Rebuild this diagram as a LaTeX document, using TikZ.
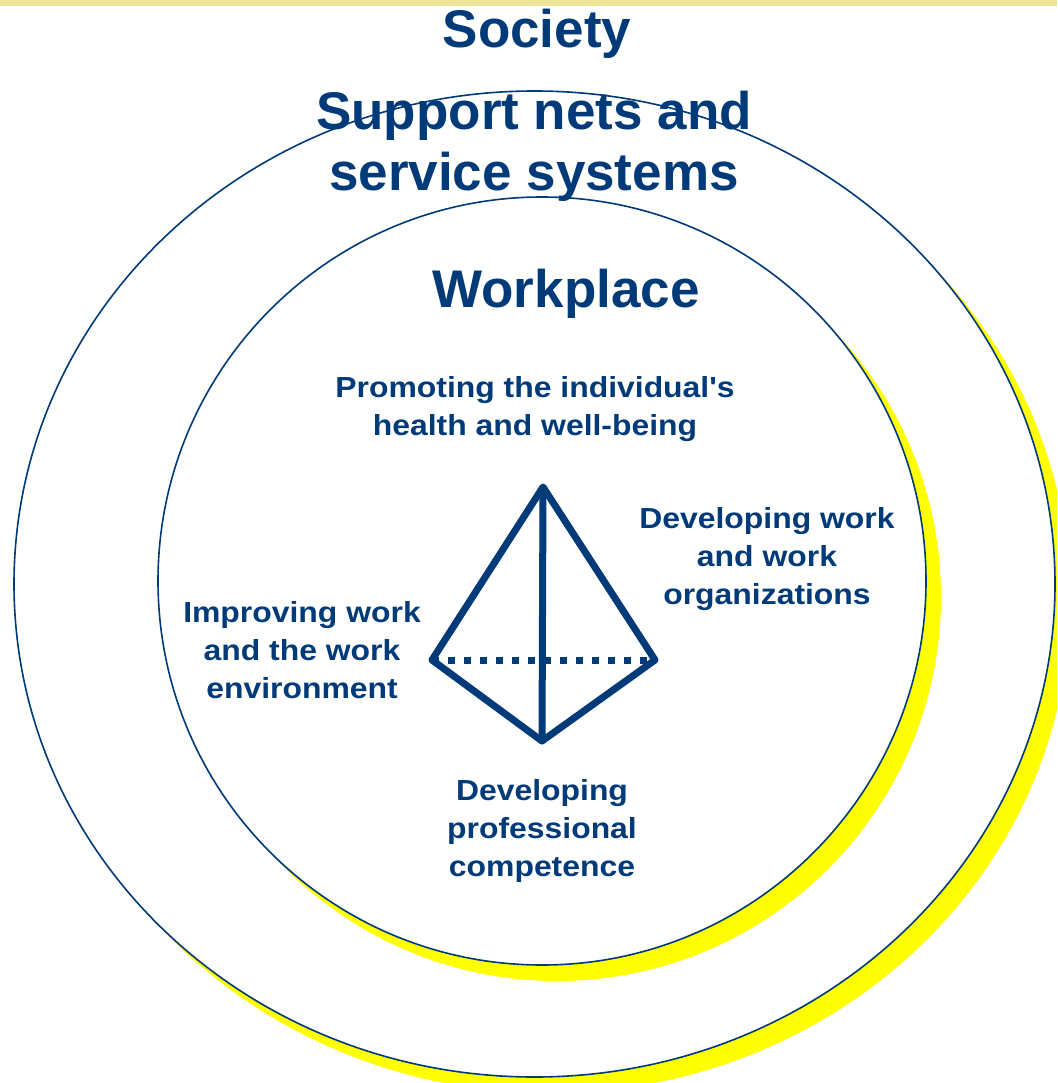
\documentclass[tikz,border=0pt]{standalone}
\usepackage{fontspec}
\setmainfont{Liberation Sans}
\newfontfamily\labelfont[FakeStretch=1.1]{Liberation Sans}
\usepackage{xcolor}
\usetikzlibrary{positioning}

\definecolor{navy}{RGB}{0,58,120}
\definecolor{glow}{RGB}{255,255,0}
\definecolor{band}{RGB}{236,229,150}

\begin{document}
\begin{tikzpicture}[
    x=1pt, y=-1pt,
    ring/.style ={draw=navy, fill=white, line width=1.6pt},
    halo/.style ={fill=glow},
    title/.style={text=navy, inner sep=0pt, align=center,
                  font=\fontsize{53}{61}\selectfont\bfseries},
    item/.style ={text=navy, inner sep=0pt, align=center,
                  font=\labelfont\fontsize{29}{38}\selectfont\bfseries},
    edge/.style ={navy, line width=7pt, line join=round},
    hidden/.style={edge, dash pattern=on 7pt off 9pt}
  ]
    \useasboundingbox (0,0) rectangle (1057,1083);
    \clip (0,0) rectangle (1057,1083);

    % strip along the top
    \fill[band] (0,0) rectangle (1057,6);

    % rings with their shadows
    \fill[halo] (549.5,600) ellipse [x radius=520.5, y radius=493];
    \draw[ring] (534.5,584) ellipse [x radius=520.5, y radius=493];
    \fill[halo] (557,597) circle [radius=384];
    \draw[ring] (542,581) circle [radius=384];

    % ring titles
    \node[title, anchor=base] (society) at (537,48) {Society};
    \node[title] (support) at (534,146) {Support nets and\\service systems};
    \node[title, anchor=base] (workplace) at (566,307) {Workplace};

    % corner labels
    \node[item] (health) at (535,409.5) {Promoting the individual's\\health and well-being};
    \node[item] (organize) at (767,559) {Developing work\\and work\\organizations};
    \node[item] (improve) at (302,650.5) {Improving work\\and the work\\environment};
    \node[item] (compet) at (542,831) {Developing\\professional\\competence};

    % pyramid
    \coordinate (apex) at (543,487);
    \coordinate (lft)  at (432,660);
    \coordinate (rgt)  at (655,660);
    \coordinate (bot)  at (542,741);

    \draw[hidden] (lft) -- (rgt);
    \draw[edge] (apex) -- (lft) -- (bot) -- (rgt) -- cycle;
    \draw[edge] (apex) -- (bot);
  \end{tikzpicture}
\end{document}
